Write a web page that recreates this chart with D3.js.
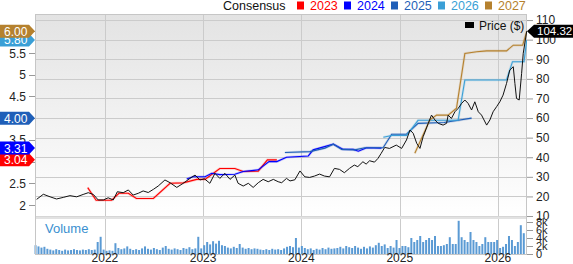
<!DOCTYPE html>
<html>
<head>
<meta charset="utf-8">
<script src="https://cdn.jsdelivr.net/npm/d3@7"></script>
<style>
  body { margin: 0; background: #fff; }
  svg { display: block; font-family: "Liberation Sans", Arial, sans-serif; }
</style>
</head>
<body>
<svg id="chart" width="573" height="264"></svg>
<script>
// ---- data ----
const yearTicks = [2022, 2023, 2024, 2025, 2026];
const priceTicks = [10, 20, 30, 40, 50, 60, 70, 80, 90, 100, 110];
const epsTicks = [2, 2.5, 3, 3.5, 4, 4.5, 5, 5.5, 6];
const volTicks = [0, 2, 4, 6, 8];

const seriesNames = ["2023", "2024", "2025", "2026", "2027"];
const seriesColors = ["#ff0000", "#0000ff", "#1f5fb8", "#3a9fd6", "#b5812e"];
const lastEps = [3.04, 3.31, 4.00, 5.80, 6.00];
const lastPrice = 104.32;

// closing price ($)
const price = [
  ["2021-04-22", 18.5], ["2021-05-17", 21.1], ["2021-06-11", 19.8], ["2021-07-05", 18.7],
  ["2021-07-30", 19.5], ["2021-08-24", 20.4], ["2021-09-18", 19.8], ["2021-10-12", 21.0],
  ["2021-10-31", 21.9], ["2021-11-19", 21.0], ["2021-12-07", 18.2], ["2021-12-26", 18.2],
  ["2022-01-13", 19.3], ["2022-02-01", 18.2], ["2022-02-16", 22.4], ["2022-03-10", 21.9],
  ["2022-03-29", 23.3], ["2022-04-16", 20.7], ["2022-05-05", 21.6], ["2022-05-23", 22.8],
  ["2022-06-11", 22.0], ["2022-06-30", 23.6], ["2022-07-18", 25.3], ["2022-08-12", 28.4],
  ["2022-08-31", 27.0], ["2022-09-25", 24.6], ["2022-10-19", 26.7], ["2022-11-13", 29.2],
  ["2022-12-02", 30.9], ["2022-12-20", 28.4], ["2023-01-06", 29.0], ["2023-01-26", 26.7],
  ["2023-02-14", 31.8], ["2023-03-04", 29.2], ["2023-03-23", 31.8], ["2023-04-11", 28.7],
  ["2023-04-29", 30.9], ["2023-05-11", 26.7], ["2023-05-30", 25.3], ["2023-06-18", 26.7],
  ["2023-07-06", 24.6], ["2023-07-25", 27.0], ["2023-08-12", 28.7], ["2023-08-31", 27.5],
  ["2023-09-19", 28.7], ["2023-10-07", 27.5], ["2023-10-20", 27.0], ["2023-11-07", 29.2],
  ["2023-11-20", 27.9], ["2023-12-08", 28.5], ["2023-12-27", 33.0], ["2024-01-14", 30.0],
  ["2024-02-01", 29.7], ["2024-02-19", 30.4], ["2024-03-09", 31.4], ["2024-03-27", 30.4],
  ["2024-04-15", 30.0], ["2024-05-03", 34.3], ["2024-05-22", 33.8], ["2024-06-09", 32.1],
  ["2024-06-28", 34.3], ["2024-07-16", 36.0], ["2024-07-29", 35.2], ["2024-08-17", 37.7],
  ["2024-08-29", 36.5], ["2024-09-11", 38.2], ["2024-09-29", 37.5], ["2024-10-12", 39.4],
  ["2024-10-24", 42.0], ["2024-11-06", 45.0], ["2024-11-24", 44.5], ["2024-12-19", 46.2],
  ["2025-01-08", 44.5], ["2025-01-26", 48.8], ["2025-02-08", 53.9], ["2025-02-20", 52.2],
  ["2025-03-05", 47.1], ["2025-03-17", 44.5], ["2025-03-29", 50.5], ["2025-04-17", 57.3],
  ["2025-04-29", 61.5], ["2025-05-12", 59.0], ["2025-05-24", 57.3], ["2025-06-11", 56.4],
  ["2025-06-24", 57.3], ["2025-06-30", 61.5], ["2025-07-12", 59.8], ["2025-07-25", 63.2],
  ["2025-08-06", 64.9], ["2025-08-19", 67.5], ["2025-08-31", 69.2], ["2025-09-12", 67.5],
  ["2025-09-25", 64.1], ["2025-10-07", 68.3], ["2025-10-20", 63.2], ["2025-11-01", 61.5],
  ["2025-11-20", 56.4], ["2025-12-02", 59.0], ["2025-12-14", 63.2], ["2025-12-27", 65.8],
  ["2026-01-08", 68.3], ["2026-01-20", 71.7], ["2026-02-02", 77.7], ["2026-02-14", 84.5],
  ["2026-02-27", 86.2], ["2026-03-05", 77.7], ["2026-03-11", 70.0], ["2026-03-21", 69.2],
  ["2026-03-30", 82.8], ["2026-04-05", 93.0], ["2026-04-18", 104.32]
];

// consensus EPS per fiscal year
const eps2023 = [
  ["2021-10-29", 2.40], ["2021-11-29", 2.11], ["2022-01-26", 2.11], ["2022-02-22", 2.27],
  ["2022-03-29", 2.27], ["2022-04-28", 2.15], ["2022-06-30", 2.15], ["2022-08-31", 2.50],
  ["2022-10-19", 2.51], ["2022-12-08", 2.59], ["2023-01-08", 2.59], ["2023-03-04", 2.84],
  ["2023-04-29", 2.84], ["2023-05-30", 2.77], ["2023-07-25", 2.78], ["2023-08-28", 3.04],
  ["2023-10-02", 3.04]
];
const eps2024 = [
  ["2022-11-01", 2.60], ["2022-11-24", 2.65], ["2023-01-08", 2.65], ["2023-02-02", 2.73],
  ["2023-03-04", 2.70], ["2023-04-29", 2.71], ["2023-05-30", 2.77], ["2023-07-25", 2.81],
  ["2023-09-03", 3.00], ["2023-10-02", 3.00], ["2023-11-07", 3.10], ["2024-01-27", 3.13],
  ["2024-02-14", 3.27], ["2024-04-29", 3.40], ["2024-06-05", 3.28], ["2024-07-12", 3.28],
  ["2024-07-31", 3.24], ["2024-08-31", 3.32], ["2024-10-25", 3.31]
];
const eps2025 = [
  ["2023-11-01", 3.21], ["2024-02-02", 3.23], ["2024-03-29", 3.31], ["2024-04-29", 3.40],
  ["2024-05-30", 3.28], ["2024-07-18", 3.27], ["2024-08-24", 3.32], ["2024-10-31", 3.32],
  ["2024-12-02", 3.63], ["2025-01-26", 3.63], ["2025-03-10", 3.88], ["2025-06-15", 3.90],
  ["2025-09-25", 4.00]
];
const eps2026 = [
  ["2024-11-01", 3.56], ["2024-12-02", 3.60], ["2025-01-26", 3.60], ["2025-03-10", 3.95],
  ["2025-08-06", 3.95], ["2025-08-31", 4.88], ["2026-02-02", 4.88], ["2026-02-24", 5.30],
  ["2026-04-08", 5.30], ["2026-04-18", 5.80]
];
const eps2027 = [
  ["2025-02-26", 3.19], ["2025-04-23", 3.96], ["2025-05-18", 4.07], ["2025-06-30", 4.07],
  ["2025-07-31", 4.23], ["2025-08-31", 5.49], ["2025-10-14", 5.53], ["2025-11-20", 5.55],
  ["2026-02-02", 5.55], ["2026-02-27", 5.68], ["2026-04-03", 5.68], ["2026-04-18", 6.00]
];
const epsSeries = [eps2023, eps2024, eps2025, eps2026, eps2027];

// volume (thousands), one bar every 11 days from volStart
const volStart = "2021-04-18";
const volStepDays = 11;
const volValues = [
  2.2, 1.9, 1.6, 1.8, 1.3,
  1.1, 0.9, 1.2, 1.0, 0.8, 1.1, 0.9, 1.0, 1.2, 1.0, 0.9, 1.1, 1.0, 1.2, 1.0, 1.1,
  3.0, 4.3, 1.1, 0.8, 0.9, 0.8, 2.7, 1.5, 1.2, 1.4, 1.9, 1.3, 1.0,
  1.2, 1.0, 1.4, 1.9, 1.3, 1.1, 1.5, 1.2, 1.0, 1.6, 2.0, 1.3, 1.1, 1.4, 1.2, 1.0, 1.5, 1.3, 1.7, 1.2, 1.4,
  4.3, 1.4, 2.2, 3.0, 2.4, 3.2, 2.6, 3.3, 2.2, 2.0,
  1.6, 1.4, 1.8, 1.5, 2.5, 1.6, 1.3, 1.5, 1.2, 1.4, 1.3,
  1.1, 1.0, 1.2, 1.0, 1.3, 1.1, 1.2, 1.0, 1.4,
  1.8, 2.0, 1.7, 4.0, 1.6, 2.0, 1.5,
  1.2, 1.4, 1.0, 1.3, 1.1, 1.5, 1.2, 1.6, 1.3, 1.4,
  1.5, 1.8, 1.4, 2.0, 1.7, 1.5, 2.0, 1.6, 1.3, 1.8,
  1.4, 1.9, 1.6, 2.2, 2.8, 2.0, 2.4, 1.5, 2.0, 1.6, 3.5,
  1.5, 2.0, 2.0, 1.7, 4.0, 3.0, 3.5, 4.5, 3.0, 3.5, 4.0, 3.5, 4.5,
  2.0, 2.0, 2.2, 2.5, 4.2, 2.5, 2.5, 8.3, 4.2, 3.5, 3.0, 5.5,
  3.5, 3.0, 2.0, 2.5, 4.2, 3.0, 3.0, 3.0, 3.5,
  1.5, 1.8, 2.5, 4.5, 3.5, 2.0, 3.0, 7.2, 5.2, 4.0
];

// ---- layout ----
const plotLeft = 35, plotRight = 527;
const mainTop = 14, mainBottom = 217;
const volTop = 219, volBottom = 254;

const parse = d3.timeParse("%Y-%m-%d");

const x = d3.scaleTime()
  .domain([parse("2021-04-16"), parse("2026-04-19")])
  .range([plotLeft, plotRight]);
const yPrice = d3.scaleLinear().domain([9.5, 113.1]).range([mainBottom, mainTop]);
const yEps = d3.scaleLinear().domain([1.724, 6.398]).range([mainBottom, mainTop]);
const yVol = d3.scaleLinear().domain([0, 8.75]).range([volBottom, volTop]);

const svg = d3.select("#chart");

// background gradient of the price panel
const defs = svg.append("defs");
const grad = defs.append("linearGradient").attr("id", "bg")
  .attr("x1", 0).attr("y1", 0).attr("x2", 0).attr("y2", 1);
grad.append("stop").attr("offset", "0%").attr("stop-color", "#e3e3e3");
grad.append("stop").attr("offset", "100%").attr("stop-color", "#ffffff");

defs.append("clipPath").attr("id", "clipMain")
  .append("rect").attr("x", plotLeft).attr("y", mainTop)
  .attr("width", plotRight - plotLeft).attr("height", mainBottom - mainTop);

svg.append("rect")
  .attr("x", plotLeft).attr("y", mainTop)
  .attr("width", plotRight - plotLeft).attr("height", mainBottom - mainTop)
  .attr("fill", "url(#bg)");

// horizontal grid (price)
svg.append("g").selectAll("line")
  .data(priceTicks)
  .enter().append("line")
  .attr("x1", plotLeft).attr("x2", plotRight)
  .attr("y1", d => Math.round(yPrice(d)) + 0.5)
  .attr("y2", d => Math.round(yPrice(d)) + 0.5)
  .attr("stroke", "#cbcbcb");

// vertical grid (years)
svg.append("g").selectAll("line")
  .data(yearTicks)
  .enter().append("line")
  .attr("x1", d => Math.round(x(new Date(d, 0, 1))) + 0.5)
  .attr("x2", d => Math.round(x(new Date(d, 0, 1))) + 0.5)
  .attr("y1", mainTop).attr("y2", volBottom)
  .attr("stroke", "#cbcbcb");

// band between price and volume panels
svg.append("rect")
  .attr("x", plotLeft).attr("y", mainBottom - 0.5)
  .attr("width", plotRight - plotLeft).attr("height", volTop - mainBottom + 0.5)
  .attr("fill", "#e2e2e2");

// volume bars
const volStartDate = parse(volStart);
svg.append("g").selectAll("rect")
  .data(volValues)
  .enter().append("rect")
  .attr("x", (d, i) => x(d3.timeDay.offset(volStartDate, i * volStepDays)) - 1)
  .attr("width", 2)
  .attr("y", d => yVol(d))
  .attr("height", d => volBottom - yVol(d))
  .attr("fill", "#5a9ad4")
  .filter((d, i) => x(d3.timeDay.offset(volStartDate, i * volStepDays)) > plotRight - 1)
  .remove();

svg.append("text")
  .attr("x", 45).attr("y", 233)
  .attr("fill", "#3a8fd0")
  .attr("font-size", 13)
  .text("Volume");

// panel border
svg.append("rect")
  .attr("x", plotLeft + 0.5).attr("y", mainTop + 0.5)
  .attr("width", plotRight - plotLeft - 1).attr("height", volBottom - mainTop)
  .attr("fill", "none").attr("stroke", "#c6c6c6");

// EPS lines
const epsLine = d3.line()
  .x(d => x(parse(d[0])))
  .y(d => yEps(d[1]));

const lines = svg.append("g").attr("clip-path", "url(#clipMain)");
epsSeries.forEach((s, i) => {
  lines.append("path")
    .attr("d", epsLine(s))
    .attr("fill", "none")
    .attr("stroke", seriesColors[i])
    .attr("stroke-opacity", 0.18)
    .attr("stroke-width", 2.6);
  lines.append("path")
    .attr("d", epsLine(s))
    .attr("fill", "none")
    .attr("stroke", seriesColors[i])
    .attr("stroke-width", 1.1);
});

// price line
const priceLine = d3.line()
  .x(d => x(parse(d[0])))
  .y(d => yPrice(d[1]));
lines.append("path")
  .attr("d", priceLine(price))
  .attr("fill", "none")
  .attr("stroke", "#111")
  .attr("stroke-width", 1)
  .attr("stroke-linejoin", "round");

// left axis (EPS)
const leftAxis = svg.append("g");
leftAxis.selectAll("line")
  .data(epsTicks)
  .enter().append("line")
  .attr("x1", 29).attr("x2", plotLeft)
  .attr("y1", d => Math.round(yEps(d)) + 0.5)
  .attr("y2", d => Math.round(yEps(d)) + 0.5)
  .attr("stroke", "#999");
leftAxis.selectAll("text")
  .data(epsTicks)
  .enter().append("text")
  .attr("x", 26).attr("y", d => yEps(d) + 4.5)
  .attr("text-anchor", "end")
  .attr("font-size", 12).attr("fill", "#222")
  .text(d => d);

// right axis (price)
const rightAxis = svg.append("g")
  .attr("transform", `translate(${plotRight},0)`)
  .call(d3.axisRight(yPrice).tickValues(priceTicks).tickSize(6).tickPadding(3));
rightAxis.select(".domain").remove();
rightAxis.selectAll("line").attr("stroke", "#999");
rightAxis.selectAll("text")
  .attr("font-size", 12).attr("fill", "#222")
  .attr("font-family", "Liberation Sans, Arial, sans-serif");

// volume axis
const volAxis = svg.append("g")
  .attr("transform", `translate(${plotRight},0)`)
  .call(d3.axisRight(yVol).tickValues(volTicks).tickSize(6).tickPadding(3)
    .tickFormat(d => d ? d + "k" : "0"));
volAxis.select(".domain").remove();
volAxis.selectAll("line").attr("stroke", "#999");
volAxis.selectAll("text")
  .attr("font-size", 11).attr("fill", "#222")
  .attr("font-family", "Liberation Sans, Arial, sans-serif");

// bottom axis (years)
svg.append("g").selectAll("text")
  .data(yearTicks)
  .enter().append("text")
  .attr("x", d => x(new Date(d, 0, 1)))
  .attr("y", 262)
  .attr("text-anchor", "middle")
  .attr("font-size", 12).attr("fill", "#222")
  .text(d => d);

// value tags on the left (last consensus per year)
const tagOrder = [0, 1, 2, 3, 4];
tagOrder.forEach(i => {
  const cy = yEps(lastEps[i]);
  svg.append("path")
    .attr("d", `M0,${cy - 6.5}H29L35,${cy}L29,${cy + 6.5}H0Z`)
    .attr("fill", seriesColors[i]);
  svg.append("text")
    .attr("x", 4).attr("y", cy + 4.5)
    .attr("font-size", 12).attr("fill", "#fff")
    .text(lastEps[i].toFixed(2));
});

// price tag on the right
const py = yPrice(lastPrice);
svg.append("path")
  .attr("d", `M${plotRight},${py}L${plotRight + 7},${py - 6.5}H573V${py + 6.5}H${plotRight + 7}Z`)
  .attr("fill", "#000");
svg.append("text")
  .attr("x", 537).attr("y", py + 4)
  .attr("font-size", 11.5).attr("fill", "#fff")
  .text(lastPrice.toFixed(2));

// price legend
svg.append("rect").attr("x", 465).attr("y", 22).attr("width", 9).attr("height", 6).attr("fill", "#000");
svg.append("text").attr("x", 479).attr("y", 29.5).attr("font-size", 12).attr("fill", "#111").text("Price ($)");

// consensus legend
svg.append("text").attr("x", 223).attr("y", 10).attr("font-size", 12.5).attr("fill", "#111").text("Consensus");
const legend = svg.append("g").selectAll("g")
  .data(seriesNames)
  .enter().append("g")
  .attr("transform", (d, i) => `translate(${297 + i * 47},0)`);
legend.append("rect")
  .attr("x", 0).attr("y", 1.5).attr("width", 7).attr("height", 8)
  .attr("fill", (d, i) => seriesColors[i]);
legend.append("text")
  .attr("x", 13).attr("y", 10)
  .attr("font-size", 12.5)
  .attr("fill", (d, i) => seriesColors[i])
  .text(d => d);
</script>
</body>
</html>
